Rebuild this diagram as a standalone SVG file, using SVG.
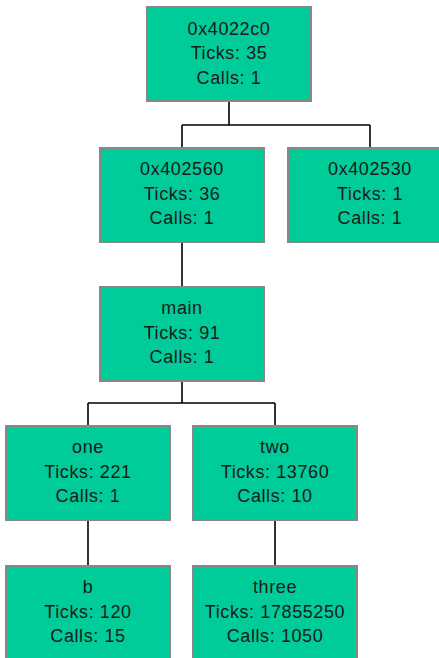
<svg xmlns="http://www.w3.org/2000/svg" width="439" height="658" viewBox="0 0 439 658">
  <style>
    .box { fill: #00cc99; stroke: #888888; stroke-width: 2; }
    .lbl { font-family: "Liberation Sans", Arial, sans-serif; font-size: 18px; letter-spacing: 0.6px; fill: #1a1a1a; text-anchor: middle; }
    .edge { fill: none; stroke: #000000; stroke-width: 1.6; }
  </style>
  <rect width="439" height="658" fill="#ffffff"/>

  <!-- call-tree connectors -->
  <g id="connectors">
    <path class="edge" d="M229,101 V125 M182,125 H370 M182,125 V148 M370,125 V148"/>
    <path class="edge" d="M182,242 V287"/>
    <path class="edge" d="M182,381 V403 M88,403 H275 M88,403 V426 M275,403 V426"/>
    <path class="edge" d="M88,520 V566"/>
    <path class="edge" d="M275,520 V566"/>
  </g>

  <g id="n_0x4022c0">
    <rect class="box" x="147" y="7" width="164" height="94"/>
    <text class="lbl" x="229" y="35">0x4022c0</text>
    <text class="lbl" x="229" y="59">Ticks: 35</text>
    <text class="lbl" x="229" y="84">Calls: 1</text>
  </g>

  <g id="n_0x402560">
    <rect class="box" x="100" y="148" width="164" height="94"/>
    <text class="lbl" x="182" y="175">0x402560</text>
    <text class="lbl" x="182" y="200">Ticks: 36</text>
    <text class="lbl" x="182" y="224">Calls: 1</text>
  </g>

  <g id="n_0x402530">
    <rect class="box" x="288" y="148" width="164" height="94"/>
    <text class="lbl" x="370" y="175">0x402530</text>
    <text class="lbl" x="370" y="200">Ticks: 1</text>
    <text class="lbl" x="370" y="224">Calls: 1</text>
  </g>

  <g id="n_main">
    <rect class="box" x="100" y="287" width="164" height="94"/>
    <text class="lbl" x="182" y="314">main</text>
    <text class="lbl" x="182" y="339">Ticks: 91</text>
    <text class="lbl" x="182" y="363">Calls: 1</text>
  </g>

  <g id="n_one">
    <rect class="box" x="6" y="426" width="164" height="94"/>
    <text class="lbl" x="88" y="453">one</text>
    <text class="lbl" x="88" y="478">Ticks: 221</text>
    <text class="lbl" x="88" y="502">Calls: 1</text>
  </g>

  <g id="n_two">
    <rect class="box" x="193" y="426" width="164" height="94"/>
    <text class="lbl" x="275" y="453">two</text>
    <text class="lbl" x="275" y="478">Ticks: 13760</text>
    <text class="lbl" x="275" y="502">Calls: 10</text>
  </g>

  <g id="n_b">
    <rect class="box" x="6" y="566" width="164" height="94"/>
    <text class="lbl" x="88" y="593">b</text>
    <text class="lbl" x="88" y="618">Ticks: 120</text>
    <text class="lbl" x="88" y="642">Calls: 15</text>
  </g>

  <g id="n_three">
    <rect class="box" x="193" y="566" width="164" height="94"/>
    <text class="lbl" x="275" y="593">three</text>
    <text class="lbl" x="275" y="618">Ticks: 17855250</text>
    <text class="lbl" x="275" y="642">Calls: 1050</text>
  </g>
</svg>
